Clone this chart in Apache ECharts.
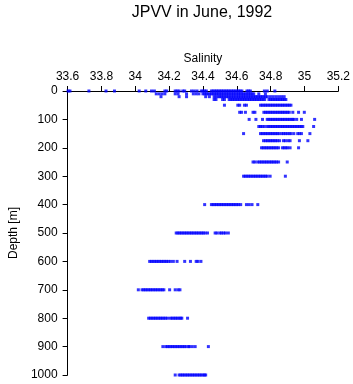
<!DOCTYPE html>
<html>
<head>
<meta charset="utf-8">
<style>
  html, body { margin: 0; padding: 0; background: #fff; }
  #chart { width: 353px; height: 384px; }
</style>
<script src="https://cdn.jsdelivr.net/npm/echarts@6/dist/echarts.min.js"></script>
</head>
<body>
<div id="chart"></div>
<script>
// salinity readings per standard depth (m)
var depths = [0, 10, 20, 30, 50, 75, 100, 125, 150, 175, 200, 250, 300, 400, 500, 600, 700, 800, 900, 1000];

var sal0 = [33.603, 33.614, 33.726, 33.827, 33.877, 34.023, 34.062, 34.096, 34.113, 34.175, 34.186, 34.236, 34.247, 34.259, 34.281, 34.292, 34.332, 34.348, 34.365, 34.39, 34.40, 34.41, 34.42, 34.45, 34.46, 34.47, 34.48, 34.49, 34.50, 34.51, 34.52, 34.53, 34.54, 34.55, 34.56, 34.57, 34.58, 34.59, 34.60, 34.61, 34.62, 34.63, 34.66, 34.67, 34.68, 34.763, 34.78, 34.825];
var sal10 = [34.124, 34.141, 34.158, 34.175, 34.236, 34.253, 34.303, 34.343, 34.36, 34.376, 34.40, 34.41, 34.42, 34.43, 34.44, 34.45, 34.46, 34.47, 34.48, 34.49, 34.50, 34.51, 34.52, 34.53, 34.54, 34.55, 34.56, 34.57, 34.58, 34.59, 34.60, 34.61, 34.62, 34.63, 34.64, 34.65, 34.66, 34.67, 34.68, 34.69, 34.70, 34.73, 34.769];
var sal20 = [34.152, 34.259, 34.303, 34.416, 34.438, 34.466, 34.477, 34.49, 34.50, 34.51, 34.52, 34.53, 34.54, 34.55, 34.56, 34.57, 34.58, 34.59, 34.60, 34.61, 34.62, 34.63, 34.64, 34.65, 34.66, 34.67, 34.68, 34.69, 34.70, 34.71, 34.72, 34.73, 34.74, 34.75, 34.76, 34.77, 34.78, 34.797, 34.813, 34.83, 34.847, 34.864, 34.88];
var sal30 = [34.466, 34.477, 34.516, 34.527, 34.555, 34.565, 34.575, 34.585, 34.595, 34.605, 34.615, 34.625, 34.635, 34.645, 34.655, 34.665, 34.675, 34.685, 34.695, 34.705, 34.715, 34.725, 34.735, 34.745, 34.755, 34.765, 34.79, 34.80, 34.81, 34.82, 34.83, 34.84, 34.85, 34.86, 34.87, 34.88, 34.89];
var sal50 = [34.527, 34.606, 34.617, 34.645, 34.657, 34.74, 34.75, 34.76, 34.77, 34.78, 34.79, 34.80, 34.81, 34.82, 34.83, 34.84, 34.85, 34.86, 34.87, 34.88, 34.89, 34.90, 34.91, 34.92];
var sal75 = [34.617, 34.628, 34.651, 34.696, 34.707, 34.76, 34.77, 34.78, 34.79, 34.80, 34.81, 34.82, 34.83, 34.84, 34.85, 34.86, 34.87, 34.88, 34.89, 34.90, 34.91, 34.931, 34.965, 34.999];
var sal100 = [34.673, 34.713, 34.752, 34.78, 34.79, 34.80, 34.81, 34.82, 34.83, 34.84, 34.85, 34.86, 34.87, 34.88, 34.89, 34.90, 34.91, 34.92, 34.93, 34.937, 34.954, 34.982, 35.06];
var sal125 = [34.73, 34.74, 34.75, 34.763, 34.78, 34.79, 34.80, 34.81, 34.82, 34.83, 34.84, 34.85, 34.86, 34.87, 34.88, 34.89, 34.90, 34.91, 34.92, 34.93, 34.94, 34.95, 34.96, 34.97, 34.98, 34.99, 35.054];
var sal150 = [34.64, 34.74, 34.75, 34.76, 34.77, 34.78, 34.79, 34.80, 34.81, 34.82, 34.83, 34.84, 34.85, 34.865, 34.876, 34.887, 34.898, 34.91, 34.92, 34.937, 34.96, 34.97, 34.982, 35.032];
var sal175 = [34.758, 34.77, 34.78, 34.79, 34.80, 34.81, 34.82, 34.83, 34.84, 34.853, 34.876, 34.887, 34.903, 34.915, 34.97, 35.02];
var sal200 = [34.746, 34.756, 34.766, 34.776, 34.786, 34.796, 34.806, 34.816, 34.826, 34.836, 34.847, 34.87, 34.88, 34.89, 34.90, 34.915, 34.965];
var sal250 = [34.696, 34.707, 34.724, 34.735, 34.745, 34.755, 34.765, 34.775, 34.785, 34.795, 34.805, 34.815, 34.825, 34.835, 34.847, 34.898];
var sal300 = [34.64, 34.65, 34.66, 34.67, 34.68, 34.69, 34.70, 34.71, 34.72, 34.73, 34.74, 34.75, 34.76, 34.77, 34.78, 34.797, 34.887];
var sal400 = [34.41, 34.45, 34.46, 34.47, 34.48, 34.49, 34.50, 34.51, 34.52, 34.53, 34.54, 34.55, 34.56, 34.57, 34.58, 34.59, 34.60, 34.61, 34.623, 34.657, 34.673, 34.69, 34.724];
var sal500 = [34.242, 34.252, 34.262, 34.272, 34.282, 34.292, 34.302, 34.312, 34.322, 34.332, 34.342, 34.352, 34.362, 34.372, 34.382, 34.392, 34.402, 34.412, 34.427, 34.472, 34.483, 34.50, 34.51, 34.522, 34.533, 34.55];
var sal600 = [34.085, 34.095, 34.105, 34.115, 34.125, 34.135, 34.145, 34.155, 34.165, 34.175, 34.185, 34.195, 34.208, 34.225, 34.247, 34.292, 34.326, 34.36, 34.37, 34.388];
var sal700 = [34.018, 34.04, 34.05, 34.06, 34.07, 34.08, 34.09, 34.10, 34.11, 34.12, 34.13, 34.14, 34.15, 34.16, 34.169, 34.203, 34.236, 34.253, 34.264];
var sal800 = [34.079, 34.089, 34.099, 34.109, 34.119, 34.129, 34.139, 34.149, 34.159, 34.169, 34.179, 34.191, 34.208, 34.218, 34.228, 34.238, 34.248, 34.258, 34.268, 34.275, 34.309];
var sal900 = [34.163, 34.18, 34.19, 34.20, 34.21, 34.22, 34.23, 34.24, 34.25, 34.26, 34.27, 34.28, 34.29, 34.30, 34.315, 34.32, 34.337, 34.354, 34.432];
var sal1000 = [34.236, 34.259, 34.269, 34.279, 34.289, 34.299, 34.309, 34.319, 34.329, 34.339, 34.349, 34.359, 34.369, 34.379, 34.389, 34.399, 34.409, 34.416];

var salByDepth = [sal0, sal10, sal20, sal30, sal50, sal75, sal100, sal125, sal150, sal175,
    sal200, sal250, sal300, sal400, sal500, sal600, sal700, sal800, sal900, sal1000];

var points = [];
salByDepth.forEach(function(list, i) {
    list.forEach(function(s) {
        points.push([s, depths[i]]);
    });
});

var font = "'Liberation Sans', Arial, sans-serif";
var chart = echarts.init(document.getElementById("chart"));

chart.setOption({
    animation: false,
    textStyle: { fontFamily: font },
    title: {
        text: "JPVV in June, 1992",
        left: 197,
        textAlign: "center",
        top: 0,
        textStyle: { fontFamily: font, fontSize: 16, fontWeight: "normal", color: "#000" }
    },
    grid: { left: 54, right: 13, top: 91, bottom: 9 },
    xAxis: {
        type: "value",
        position: "top",
        min: 33.6,
        max: 35.2,
        interval: 0.2,
        name: "Salinity",
        nameLocation: "middle",
        nameGap: 26,
        nameTextStyle: { fontFamily: font, fontSize: 12, color: "#000" },
        axisLine: { lineStyle: { color: "#000", width: 1 } },
        axisTick: { length: 5, lineStyle: { color: "#000" } },
        axisLabel: { fontFamily: font, fontSize: 12, color: "#000", margin: 8 },
        splitLine: { show: false }
    },
    yAxis: {
        type: "value",
        inverse: true,
        min: 0,
        max: 1000,
        interval: 100,
        name: "Depth [m]",
        nameLocation: "middle",
        nameGap: 47,
        nameTextStyle: { fontFamily: font, fontSize: 12, color: "#000" },
        axisLine: { show: true, lineStyle: { color: "#000", width: 1 } },
        axisTick: { show: true, length: 5, lineStyle: { color: "#000" } },
        axisLabel: {
            fontFamily: font, fontSize: 12, color: "#000", margin: 10,
            formatter: function(v) { return String(v); }
        },
        splitLine: { show: false }
    },
    series: [{
        type: "scatter",
        data: points,
        symbol: "rect",
        symbolSize: [3, 3],
        clip: false,
        itemStyle: { color: "#0000ff" }
    }]
});
</script>
</body>
</html>
